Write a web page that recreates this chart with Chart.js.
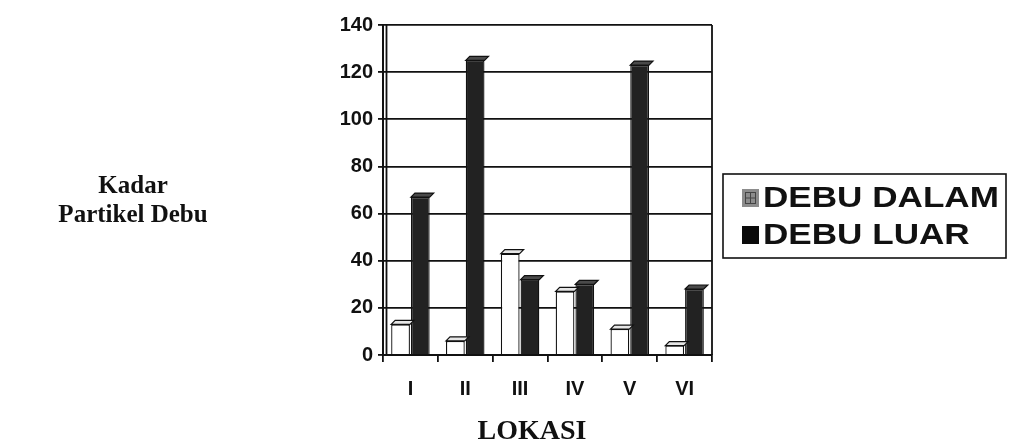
<!DOCTYPE html>
<html>
<head>
<meta charset="utf-8">
<style>
  html, body { margin: 0; padding: 0; background: #fff; }
  #wrap { width: 1010px; height: 448px; position: relative; }
</style>
<script src="https://cdn.jsdelivr.net/npm/chart.js@4/dist/chart.umd.min.js"></script>
</head>
<body>
<div id="wrap"><canvas id="c" width="1010" height="448"></canvas></div>
<script>
// Dust particle concentration per sampling location
const lokasi = ['I', 'II', 'III', 'IV', 'V', 'VI'];
const debuDalam = [13, 6, 43, 27, 11, 4];
const debuLuar = [67, 125, 32, 30, 123, 28];
const yTicks = [0, 20, 40, 60, 80, 100, 120, 140];
const seriesNames = ['DEBU DALAM', 'DEBU LUAR'];
const yTitleLines = ['Kadar', 'Partikel Debu'];
const xTitle = 'LOKASI';

const SANS = "'Liberation Sans', Arial, sans-serif";
const SERIF = "'Liberation Serif', 'Times New Roman', serif";

// horizontal shading for the bar faces
function faceGradient(ctx, light) {
  const el = ctx.element;
  const c = ctx.chart.ctx;
  if (!el || el.x === undefined || !el.width) return light ? '#fff' : '#222';
  const x0 = el.x - el.width / 2, x1 = el.x + el.width / 2;
  const g = c.createLinearGradient(x0, 0, x1, 0);
  if (light) {
    g.addColorStop(0, '#ffffff');
    g.addColorStop(0.55, '#f4f4f4');
    g.addColorStop(1, '#9a9a9a');
  } else {
    g.addColorStop(0, '#6a6a6a');
    g.addColorStop(0.35, '#2a2a2a');
    g.addColorStop(0.75, '#111111');
    g.addColorStop(1, '#3a3a3a');
  }
  return g;
}

// top caps that give the bars a little depth
const barCaps = {
  id: 'barCaps',
  afterDatasetsDraw(chart) {
    const c = chart.ctx;
    const d = 4;
    chart.data.datasets.forEach((ds, i) => {
      const meta = chart.getDatasetMeta(i);
      meta.data.forEach(bar => {
        const l = bar.x - bar.width / 2, r = bar.x + bar.width / 2, t = bar.y;
        c.save();
        c.beginPath();
        c.moveTo(l, t);
        c.lineTo(l + d, t - d);
        c.lineTo(r + d, t - d);
        c.lineTo(r, t);
        c.closePath();
        c.fillStyle = i === 0 ? '#e6e6e6' : '#4a4a4a';
        c.fill();
        c.lineWidth = 1.2;
        c.strokeStyle = '#111';
        c.stroke();
        c.restore();
      });
    });
  }
};

// plot frame, axis titles and boxed legend
const frameAndLegend = {
  id: 'frameAndLegend',
  afterDraw(chart) {
    const c = chart.ctx;
    const a = chart.chartArea;
    c.save();
    c.strokeStyle = '#111';
    c.lineWidth = 1.8;
    // right wall edge and inner left wall edge
    c.beginPath();
    c.moveTo(a.right, a.top);
    c.lineTo(a.right, a.bottom);
    c.moveTo(a.left + 3.5, a.top);
    c.lineTo(a.left + 3.5, a.bottom);
    c.stroke();

    // vertical-axis title, written horizontally on the left
    c.fillStyle = '#111';
    c.font = 'bold 25px ' + SERIF;
    c.textAlign = 'center';
    c.textBaseline = 'middle';
    yTitleLines.forEach((s, k) => c.fillText(s, 133, 187 + k * 29));

    // horizontal-axis title
    c.font = 'bold 28px ' + SERIF;
    c.fillText(xTitle, 532, 432);

    // legend box
    const bx = a.right + 11, by = 174, bw = chart.width - bx - 4, bh = 84;
    c.lineWidth = 1.6;
    c.strokeRect(bx, by, bw, bh);
    c.font = 'bold 30px ' + SANS;
    c.textAlign = 'left';
    chart.data.datasets.forEach((ds, i) => {
      const cy = by + 24 + i * 37;
      const mx = bx + 19;
      if (i === 0) {
        c.fillStyle = '#8c8c8c';
        c.fillRect(mx, cy - 9, 17, 18);
        c.strokeStyle = '#444';
        c.lineWidth = 1;
        c.strokeRect(mx + 3.5, cy - 5.5, 10, 11);
        c.beginPath();
        c.moveTo(mx + 3.5, cy); c.lineTo(mx + 13.5, cy);
        c.moveTo(mx + 8.5, cy - 5.5); c.lineTo(mx + 8.5, cy + 5.5);
        c.stroke();
      } else {
        c.fillStyle = '#0a0a0a';
        c.fillRect(mx, cy - 9, 17, 18);
      }
      c.fillStyle = '#111';
      c.save();
      c.translate(mx + 21, cy + 1);
      c.scale(1.17, 1);
      c.fillText(ds.label, 0, 0);
      c.restore();
    });
    c.restore();
  }
};

new Chart(document.getElementById('c'), {
  type: 'bar',
  data: {
    labels: lokasi,
    datasets: [
      {
        label: seriesNames[0],
        data: debuDalam,
        backgroundColor: ctx => faceGradient(ctx, true),
        borderColor: '#111',
        borderWidth: 1.3,
        categoryPercentage: 0.72,
        barPercentage: 0.95
      },
      {
        label: seriesNames[1],
        data: debuLuar,
        backgroundColor: ctx => faceGradient(ctx, false),
        borderColor: '#111',
        borderWidth: 1.3,
        categoryPercentage: 0.72,
        barPercentage: 0.95
      }
    ]
  },
  options: {
    responsive: false,
    animation: false,
    devicePixelRatio: 1,
    layout: { padding: { left: 333, right: 298, top: 25, bottom: 0 } },
    plugins: {
      legend: { display: false },
      tooltip: { enabled: false }
    },
    scales: {
      x: {
        grid: {
          display: true,
          drawOnChartArea: false,
          drawTicks: true,
          tickLength: 7,
          color: '#111',
          lineWidth: 1.8
        },
        border: { display: true, color: '#111', width: 2 },
        ticks: {
          color: '#111',
          padding: 15,
          font: { family: SANS, size: 20, weight: 'bold' }
        },
        afterFit(scale) { scale.height = 93; }
      },
      y: {
        min: 0,
        max: yTicks[yTicks.length - 1],
        afterBuildTicks(scale) { scale.ticks = yTicks.map(v => ({ value: v })); },
        grid: {
          color: '#111',
          lineWidth: 1.8,
          drawTicks: true,
          tickLength: 5
        },
        border: { display: true, color: '#111', width: 2 },
        ticks: {
          color: '#111',
          padding: 5,
          font: { family: SANS, size: 20, weight: 'bold' }
        },
        afterFit(scale) { scale.width = 50; }
      }
    }
  },
  plugins: [barCaps, frameAndLegend]
});
</script>
</body>
</html>
